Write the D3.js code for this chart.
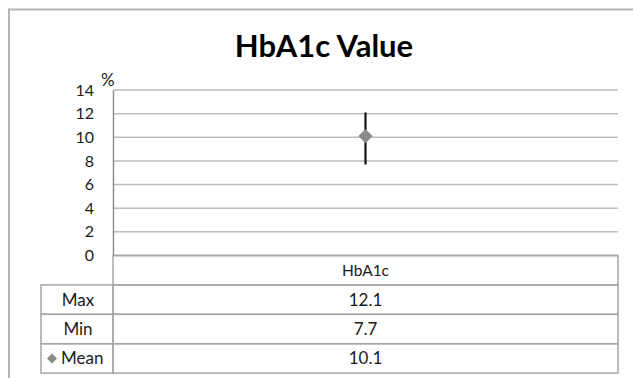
<!DOCTYPE html>
<html>
<head>
<meta charset="utf-8">
<script src="https://cdn.jsdelivr.net/npm/d3@7"></script>
<style>
  html, body { margin: 0; padding: 0; background: #fff; }
  svg { display: block; font-family: Lato, "Open Sans", sans-serif; }
</style>
</head>
<body>
<svg id="chart" width="633" height="378"></svg>
<script>
// Chart data
const title = "HbA1c Value";
const unitLabel = "%";
const categories = ["HbA1c"];
const maxValues = [12.1];
const minValues = [7.7];
const meanValues = [10.1];
const yTicks = [0, 2, 4, 6, 8, 10, 12, 14];
const rowLabels = ["Max", "Min", "Mean"];

const svg = d3.select("#chart");
const W = 633, H = 378;

// Plot geometry
const plot = { left: 113, right: 618, top: 90, bottom: 255.5 };
const tableLeft = 41;
const rowH = 29.4;
const textColor = "#1a1a1a";

const x = d3.scaleBand().domain(categories).range([plot.left, plot.right]);
const y = d3.scaleLinear().domain([0, 14]).range([plot.bottom, plot.top]);

// Outer chart frame
svg.append("path")
  .attr("d", `M9,${H} V9.5 H${W}`)
  .attr("fill", "none").attr("stroke", "#b4b4b4").attr("stroke-width", 2);

// Title
svg.append("text")
  .attr("x", 324).attr("y", 57)
  .attr("text-anchor", "middle")
  .attr("font-size", 31).attr("font-weight", "bold")
  .attr("fill", "#000")
  .text(title);

// Gridlines
svg.append("g")
  .selectAll("line")
  .data(yTicks.filter(t => t > 0))
  .join("line")
  .attr("x1", plot.left).attr("x2", plot.right)
  .attr("y1", d => y(d)).attr("y2", d => y(d))
  .attr("stroke", "#bdbdbd").attr("stroke-width", 1.5);

// Y axis
const yAxis = svg.append("g")
  .attr("transform", `translate(${plot.left},0)`)
  .call(d3.axisLeft(y).tickValues(yTicks).tickSize(0).tickPadding(19));
yAxis.select(".domain").attr("stroke", "#8c8c8c").attr("stroke-width", 1.5);
yAxis.selectAll("text")
  .attr("font-size", 16).attr("fill", textColor)
  .attr("font-family", "Lato, sans-serif");

// Unit label
svg.append("text")
  .attr("x", 101).attr("y", 86)
  .attr("font-size", 17).attr("fill", textColor)
  .text(unitLabel);

// Baseline axis
svg.append("line")
  .attr("x1", plot.left).attr("x2", plot.right)
  .attr("y1", y(0)).attr("y2", y(0))
  .attr("stroke", "#8c8c8c").attr("stroke-width", 1.5);

// Data table
const tableTop = plot.bottom;
const tbl = svg.append("g");
const lineColor = "#a6a6a6";

// Category header row
tbl.append("rect")
  .attr("x", plot.left).attr("y", tableTop)
  .attr("width", plot.right - plot.left).attr("height", rowH)
  .attr("fill", "none").attr("stroke", lineColor).attr("stroke-width", 1.5);
tbl.selectAll("text.cat")
  .data(categories)
  .join("text")
  .attr("class", "cat")
  .attr("x", d => x(d) + x.bandwidth() / 2)
  .attr("y", tableTop + rowH / 2 + 5.5)
  .attr("text-anchor", "middle")
  .attr("font-size", 15.5).attr("fill", textColor)
  .text(d => d);

const rowValues = [maxValues, minValues, meanValues];
rowLabels.forEach((lab, i) => {
  const ry = tableTop + rowH * (i + 1);
  tbl.append("rect")
    .attr("x", tableLeft).attr("y", ry)
    .attr("width", plot.left - tableLeft).attr("height", rowH)
    .attr("fill", "none").attr("stroke", lineColor).attr("stroke-width", 1.5);
  tbl.append("rect")
    .attr("x", plot.left).attr("y", ry)
    .attr("width", plot.right - plot.left).attr("height", rowH)
    .attr("fill", "none").attr("stroke", lineColor).attr("stroke-width", 1.5);

  const isMean = lab === "Mean";
  tbl.append("text")
    .attr("x", isMean ? 61 : (tableLeft + plot.left) / 2 + 1)
    .attr("y", ry + rowH / 2 + 6)
    .attr("text-anchor", isMean ? "start" : "middle")
    .attr("font-size", 17).attr("fill", textColor)
    .text(lab);
  if (isMean) {
    tbl.append("path")
      .attr("d", d3.symbol(d3.symbolSquare, 50)())
      .attr("transform", `translate(52,${ry + rowH / 2}) rotate(45)`)
      .attr("fill", "#8a8a8a");
  }
  tbl.selectAll(null)
    .data(categories)
    .join("text")
    .attr("x", d => x(d) + x.bandwidth() / 2)
    .attr("y", ry + rowH / 2 + 6)
    .attr("text-anchor", "middle")
    .attr("font-size", 17).attr("fill", textColor)
    .text((d, j) => rowValues[i][j]);
});

// High-low bars
svg.append("g")
  .selectAll("line")
  .data(categories)
  .join("line")
  .attr("x1", d => x(d) + x.bandwidth() / 2)
  .attr("x2", d => x(d) + x.bandwidth() / 2)
  .attr("y1", (d, i) => y(maxValues[i]))
  .attr("y2", (d, i) => y(minValues[i]))
  .attr("stroke", "#111").attr("stroke-width", 2.2);

// Mean markers
svg.append("g")
  .selectAll("path")
  .data(categories)
  .join("path")
  .attr("d", d3.symbol(d3.symbolSquare, 100)())
  .attr("transform", (d, i) => `translate(${x(d) + x.bandwidth() / 2},${y(meanValues[i])}) rotate(45)`)
  .attr("fill", "#8a8a8a");
</script>
</body>
</html>
